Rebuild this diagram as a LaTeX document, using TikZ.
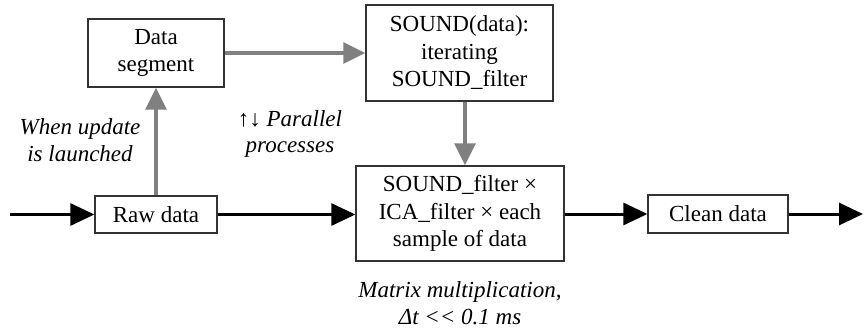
\documentclass[tikz,border=0pt]{standalone}
\usepackage{fontspec}
\setmainfont{Liberation Serif}
\usetikzlibrary{arrows.meta}
\begin{document}
\begin{tikzpicture}[x=1pt,y=-1pt,
  box/.style={draw=black!80,line width=1.3pt,align=center,inner sep=0pt,
    font=\fontsize{23}{27.5}\selectfont},
  note/.style={align=center,inner sep=0pt,font=\fontsize{23}{26.5}\selectfont\itshape},
  blk/.style={line width=3pt,draw=black,-{Triangle[length=24pt,width=22pt]}},
  gry/.style={line width=3.2pt,draw=black!50,-{Triangle[length=22pt,width=21pt]}}]
\useasboundingbox (0,0) rectangle (864,331);
\node[box,minimum width=136pt,minimum height=68pt] (seg) at (156,53) {Data\\segment};
\node[box,minimum width=122pt,minimum height=37pt] (raw) at (156,214.5) {Raw data};
\node[box,minimum width=187pt,minimum height=96pt] (snd) at (459.5,53) {SOUND(data):\\iterating\\SOUND\_filter};
\node[box,minimum width=208pt,minimum height=95pt] (mat) at (460,213.5) {SOUND\_filter ×\\ICA\_filter × each\\sample of data};
\node[box,minimum width=140pt,minimum height=38pt] (cln) at (718,214) {Clean data};
\coordinate (in) at (10,214.5);
\coordinate (out) at (863,214);
\coordinate (vx) at (465,0);
\node[note] (n1) at (80,140) {When update\\is launched};
\node[note] (n2) at (290,134) {\textup{↑↓} Parallel\\processes};
\node[note] (n3) at (460,303) {Matrix multiplication,\\Δt {<}{<} 0.1 ms};
\draw[blk] (in) -- (raw.west);
\draw[blk] (raw.east) -- (raw.east -| mat.west);
\draw[blk] (mat.east |- cln.west) -- (cln.west);
\draw[blk] (cln.east) -- (out);
\draw[gry] (raw.north) -- (seg.south);
\draw[gry] (seg.east) -- (snd.west |- seg.east);
\draw[gry] (snd.south -| vx) -- (mat.north -| vx);
\end{tikzpicture}
\end{document}
